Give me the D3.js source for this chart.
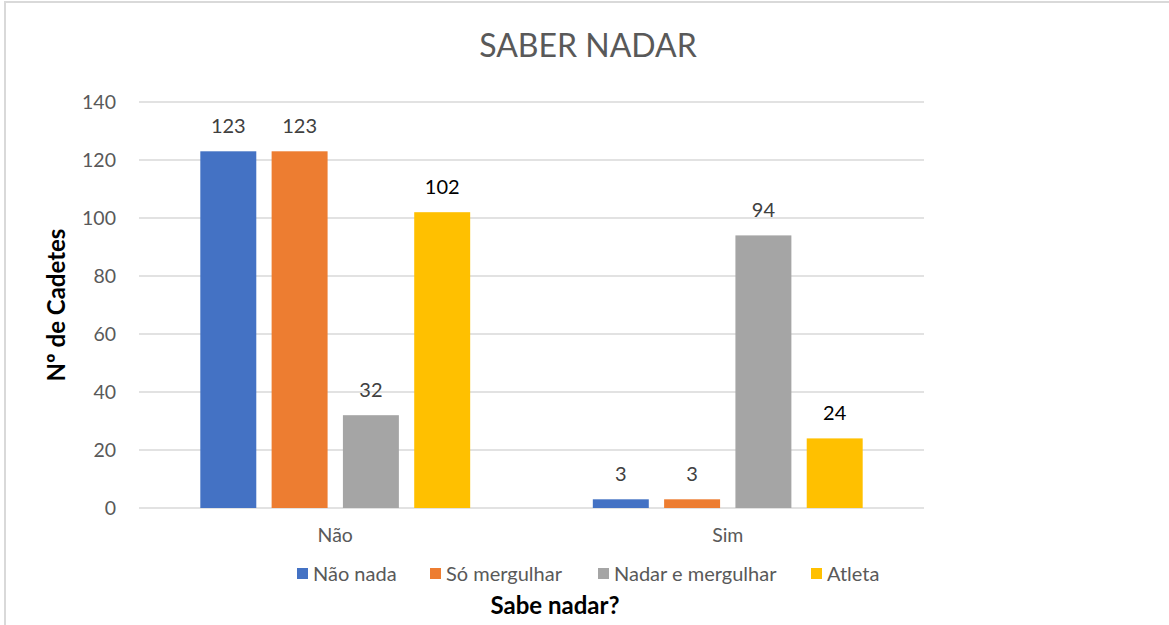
<!DOCTYPE html>
<html>
<head>
<meta charset="utf-8">
<script src="https://cdn.jsdelivr.net/npm/d3@7"></script>
<style>
  html, body { margin: 0; padding: 0; background: #fff; }
  svg { display: block; font-family: Lato, "Open Sans", sans-serif; }
</style>
</head>
<body>
<svg id="chart" width="1169" height="625"></svg>
<script>
// ---- data ----
const categories = ["Não", "Sim"];
const seriesNames = ["Não nada", "Só mergulhar", "Nadar e mergulhar", "Atleta"];
const naoValues = [123, 123, 32, 102];
const simValues = [3, 3, 94, 24];
const yTicks = [0, 20, 40, 60, 80, 100, 120, 140];
const titleText = "SABER NADAR";
const yTitle = "Nº de Cadetes";
const xTitle = "Sabe nadar?";

// ---- styles ----
const colors = ["#4472C4", "#ED7D31", "#A5A5A5", "#FFC000"];
const darkLabelSeries = ["Atleta"]; // labels drawn in black in the reference

const rows = categories.map((c, i) => ({
  category: c,
  values: [naoValues, simValues][i]
}));

const svg = d3.select("#chart");
const W = 1169, H = 625;

// border
svg.append("path")
  .attr("d", `M5,${H} L5,2 L${W},2`)
  .attr("fill", "none")
  .attr("stroke", "#d9d9d9")
  .attr("stroke-width", 2);

const plot = { left: 139, right: 924, top: 102, bottom: 508 };

const y = d3.scaleLinear().domain([0, 140]).range([plot.bottom, plot.top]);
const x0 = d3.scaleBand().domain(categories).range([plot.left, plot.right]).padding(0);
const x1 = d3.scaleBand().domain(seriesNames).range([0, x0.bandwidth()])
  .paddingInner(0.215).paddingOuter(0.86);

// gridlines
svg.append("g")
  .selectAll("line")
  .data(yTicks)
  .join("line")
  .attr("x1", plot.left).attr("x2", plot.right)
  .attr("y1", d => y(d)).attr("y2", d => y(d))
  .attr("stroke", "#d9d9d9")
  .attr("stroke-width", 1.3);

// y axis labels
const yAxis = d3.axisLeft(y).tickValues(yTicks).tickSize(0).tickPadding(0);
const gy = svg.append("g").attr("transform", `translate(${plot.left - 23},0)`).call(yAxis);
gy.select(".domain").remove();
gy.selectAll("text")
  .attr("fill", "#595959")
  .style("font-size", "19.5px")
  .style("font-family", "Lato, sans-serif");

// x axis labels
const xAxis = d3.axisBottom(x0).tickSize(0).tickPadding(0);
const gx = svg.append("g").attr("transform", `translate(0,${plot.bottom + 20})`).call(xAxis);
gx.select(".domain").remove();
gx.selectAll("text")
  .attr("fill", "#595959")
  .style("font-size", "19.5px")
  .style("font-family", "Lato, sans-serif");

// bars
const groups = svg.append("g")
  .selectAll("g")
  .data(rows)
  .join("g")
  .attr("transform", d => `translate(${x0(d.category)},0)`);

const cells = d => d.values.map((v, i) => ({ name: seriesNames[i], value: v, i }));

groups.selectAll("rect")
  .data(cells)
  .join("rect")
  .attr("x", d => x1(d.name))
  .attr("width", x1.bandwidth())
  .attr("y", d => y(d.value))
  .attr("height", d => y(0) - y(d.value))
  .attr("fill", d => colors[d.i]);

groups.selectAll("text.lbl")
  .data(cells)
  .join("text")
  .attr("class", "lbl")
  .attr("x", d => x1(d.name) + x1.bandwidth() / 2)
  .attr("y", d => y(d.value) - 18)
  .attr("text-anchor", "middle")
  .attr("fill", d => darkLabelSeries.includes(d.name) ? "#000" : "#404040")
  .style("font-size", "20px")
  .text(d => d.value);

// title
svg.append("text")
  .attr("x", 588).attr("y", 57)
  .attr("text-anchor", "middle")
  .attr("fill", "#595959")
  .style("font-size", "32px")
  .style("font-weight", 400)
  .text(titleText);

// y title
svg.append("text")
  .attr("transform", `translate(65,305) rotate(-90)`)
  .attr("text-anchor", "middle")
  .attr("fill", "#000")
  .style("font-size", "24px")
  .style("font-weight", 700)
  .text(yTitle);

// x title
svg.append("text")
  .attr("x", 555).attr("y", 614)
  .attr("text-anchor", "middle")
  .attr("fill", "#000")
  .style("font-size", "24px")
  .style("font-weight", 700)
  .text(xTitle);

// legend
const legendX = [297, 430, 598, 811];
const legend = svg.append("g")
  .selectAll("g")
  .data(seriesNames)
  .join("g")
  .attr("transform", (d, i) => `translate(${legendX[i]},574)`);
legend.append("rect")
  .attr("x", 0).attr("y", -6)
  .attr("width", 11).attr("height", 11)
  .attr("fill", (d, i) => colors[i]);
legend.append("text")
  .attr("x", 16).attr("y", 0)
  .attr("dy", "0.35em")
  .attr("fill", "#595959")
  .style("font-size", "20px")
  .text(d => d);
</script>
</body>
</html>
